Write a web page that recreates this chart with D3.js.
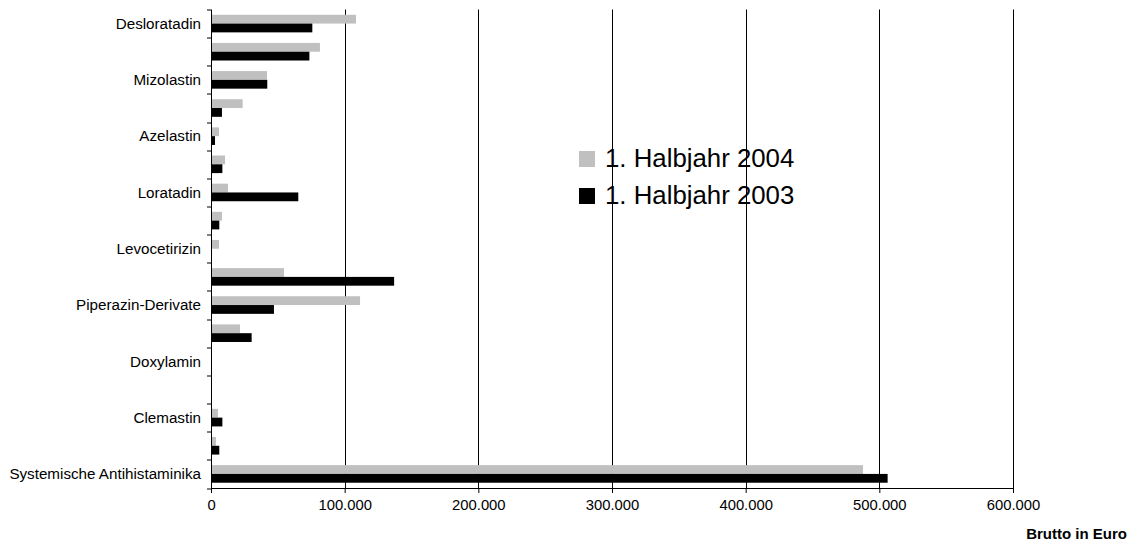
<!DOCTYPE html>
<html>
  <head>
    <meta charset="utf-8">
    <title>Antihistaminika</title>
    <style>
      body {margin:0; background:#fff;}
      svg {display:block;}
      text {font-family:"Liberation Sans", Arial, sans-serif; fill:#000;}
      .cat {font-size:15.2px;}
      .tick text {font-size:14.8px;}
      .xtitle {font-size:15px; font-weight:bold;}
      .legend text {font-size:25.8px;}
    </style>
    <script src="https://cdn.jsdelivr.net/npm/d3@7"></script>
  </head>
  <body>
    <svg id="chart" width="1133" height="545"></svg>
    <script>
      // categories top to bottom, unlabeled rows left empty as in the source
      var categories = ["Desloratadin", "", "Mizolastin", "", "Azelastin", "", "Loratadin", "",
                        "Levocetirizin", "", "Piperazin-Derivate", "", "Doxylamin", "", "Clemastin", "",
                        "Systemische Antihistaminika"];
      var h2004 = [108500, 81500, 41900, 23700, 6000, 10500, 12700, 8200,
                   6000, 54600, 111500, 21700, 0, 0, 5200, 3700, 487800];
      var h2003 = [75800, 73600, 42100, 8200, 3000, 8500, 65300, 6200,
                   0, 137000, 47100, 30400, 0, 0, 8500, 6200, 506200];
      var seriesNames = ["1. Halbjahr 2004", "1. Halbjahr 2003"];
      var seriesColors = ["#c0c0c0", "#000000"];
      var xTicks = [0, 100000, 200000, 300000, 400000, 500000, 600000];

      var margin = {top: 9.5, left: 211, right: 120, bottom: 57};
      var svgW = 1133, svgH = 545;
      var plotW = svgW - margin.left - margin.right;
      var plotH = svgH - margin.top - margin.bottom;

      var svg = d3.select("#chart");
      var g = svg.append("g").attr("transform", "translate(" + margin.left + "," + margin.top + ")");

      var x = d3.scaleLinear().domain([0, 600000]).range([0, 802]);
      var y = d3.scaleBand().domain(d3.range(categories.length)).range([0, plotH]).paddingInner(0.375).paddingOuter(0.1875);
      var inner = d3.scaleBand().domain([0, 1]).range([0, y.bandwidth()]);

      // vertical gridlines
      g.selectAll(".grid").data(xTicks.slice(1)).enter().append("line")
        .attr("x1", function(d) {return Math.round(x(d)) + 0.5;})
        .attr("x2", function(d) {return Math.round(x(d)) + 0.5;})
        .attr("y1", 0).attr("y2", plotH)
        .attr("stroke", "#000").attr("stroke-width", 1);

      // bars
      var rows = categories.map(function(c, i) {return [h2004[i], h2003[i]];});
      var grp = g.selectAll(".row").data(rows).enter().append("g")
        .attr("transform", function(d, i) {return "translate(0," + y(i) + ")";});
      grp.selectAll("rect").data(function(d) {return d;}).enter().append("rect")
        .attr("x", x(0))
        .attr("y", function(d, j) {return inner(j);})
        .attr("width", function(d) {return x(d) - x(0);})
        .attr("height", inner.bandwidth())
        .attr("fill", function(d, j) {return seriesColors[j];});

      // y axis: line + band boundary ticks
      var step = plotH / categories.length;
      g.append("line").attr("x1", 0.5).attr("x2", 0.5).attr("y1", 0).attr("y2", plotH)
        .attr("stroke", "#000");
      g.selectAll(".ytick").data(d3.range(categories.length + 1)).enter().append("line")
        .attr("x1", -4).attr("x2", 0)
        .attr("y1", function(d) {return Math.round(d * step) + 0.5;})
        .attr("y2", function(d) {return Math.round(d * step) + 0.5;})
        .attr("stroke", "#000");
      g.selectAll(".cat").data(categories).enter().append("text")
        .attr("class", "cat")
        .attr("x", -10)
        .attr("y", function(d, i) {return y(i) + y.bandwidth() / 2;})
        .attr("dy", "0.35em")
        .attr("text-anchor", "end")
        .text(function(d) {return d;});

      // x axis
      var xAxis = d3.axisBottom(x).tickValues(xTicks).tickSize(5).tickPadding(6)
        .tickFormat(function(d) {return d === 0 ? "0" : d3.format(",")(d).replace(/,/g, ".");});
      var ax = g.append("g").attr("transform", "translate(0," + plotH + ")").call(xAxis);
      ax.select(".domain").attr("d", "M0.5,0.5H802.5").attr("stroke", "#000");
      ax.selectAll(".tick line").attr("stroke", "#000");
      ax.selectAll(".tick text").attr("fill", "#000").attr("font-family", null).attr("font-size", null);

      svg.append("text").attr("class", "xtitle")
        .attr("x", 1127).attr("y", 539).attr("text-anchor", "end")
        .text("Brutto in Euro");

      // legend
      var leg = svg.append("g").attr("class", "legend");
      var li = leg.selectAll("g").data(seriesNames).enter().append("g")
        .attr("transform", function(d, i) {return "translate(579," + (151 + i * 37) + ")";});
      li.append("rect").attr("width", 16).attr("height", 16)
        .attr("fill", function(d, i) {return seriesColors[i];});
      li.append("text").attr("x", 26).attr("y", 16).text(function(d) {return d;});
    </script>
  </body>
</html>
